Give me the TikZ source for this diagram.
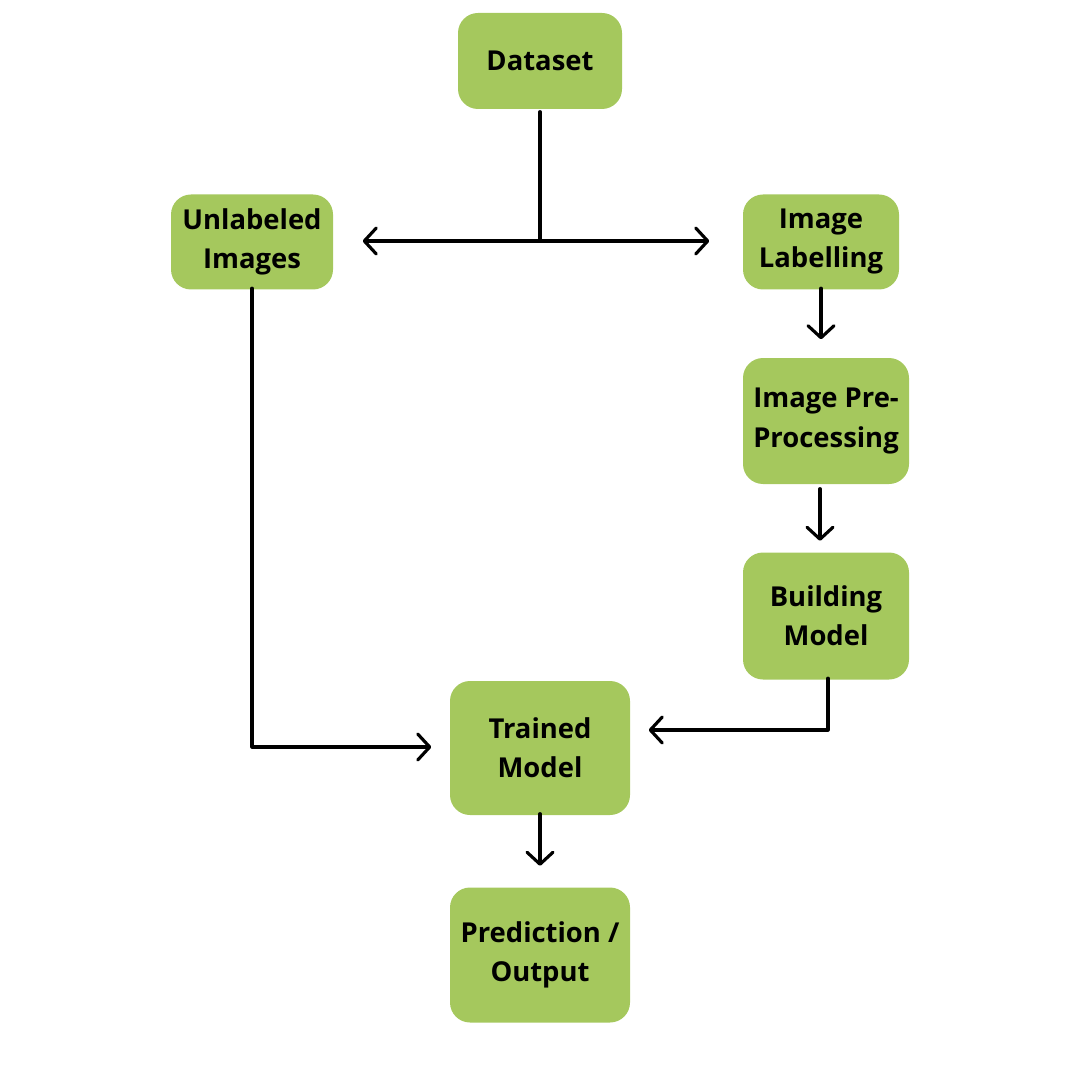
\documentclass[tikz,border=0pt]{standalone}
\usepackage{fontspec}
\setmainfont{Open Sans}
\usetikzlibrary{arrows.meta}
\definecolor{boxgreen}{HTML}{A5C85D}

\begin{document}
\begin{tikzpicture}[
		box/.style={rectangle, fill=boxgreen, rounded corners=0.2cm, inner sep=0pt,
			align=center, font=\fontsize{7.8}{11.1}\selectfont\bfseries},
		flow/.style={draw=black, line width=0.9pt, line cap=round, line join=round},
		>={Straight Barb[round, length=1.2mm, width=2.6mm]}
	]
  \useasboundingbox (0cm, 0cm) rectangle (10.8cm, -10.8cm);
  \node (data) [box, minimum width=1.64cm, minimum height=0.96cm] at (5.40cm, -0.61cm) {Dataset};
  \node (unlab) [box, minimum width=1.62cm, minimum height=0.95cm] at (2.52cm, -2.42cm) {Unlabeled\\Images};
  \node (label) [box, minimum width=1.56cm, minimum height=0.95cm] at (8.21cm, -2.42cm) {Image\\Labelling};
  \node (preproc) [box, minimum width=1.66cm, minimum height=1.26cm] at (8.26cm, -4.21cm) {Image Pre-\\Processing};
  \node (build) [box, minimum width=1.66cm, minimum height=1.27cm] at (8.26cm, -6.16cm) {Building\\Model};
  \node (train) [box, minimum width=1.80cm, minimum height=1.34cm] at (5.40cm, -7.48cm) {Trained\\Model};
  \node (pred) [box, minimum width=1.80cm, minimum height=1.35cm] at (5.40cm, -9.55cm) {Prediction~/ \\ Output};
  \coordinate (split) at (5.40cm, -2.41cm);
  \draw [flow] ([yshift=-0.02cm]data.south) -- (split);
  \draw [flow, ->, shorten >=0.29cm] (split) -- (unlab.east |- split);
  \draw [flow, ->, shorten >=0.33cm] (split) -- (label.west |- split);
  \draw [flow, ->, shorten >=0.16cm] ([yshift=0.02cm]label.south) -- ([yshift=0.02cm]label.south |- preproc.north);
  \draw [flow, ->, shorten <=0.04cm, shorten >=0.11cm] ([xshift=-0.06cm]preproc.south) -- ([xshift=-0.06cm]build.north);
  \draw [flow, ->, shorten >=0.18cm] ([xshift=0.02cm, yshift=0.02cm]build.south) |- ([yshift=0.18cm]train.east);
  \draw [flow, ->, shorten >=0.18cm] ([yshift=0.02cm]unlab.south) |- ([yshift=0.01cm]train.west);
  \draw [flow, ->, shorten >=0.21cm] ([yshift=0.02cm]train.south) -- (pred.north);
\end{tikzpicture}
\end{document}
